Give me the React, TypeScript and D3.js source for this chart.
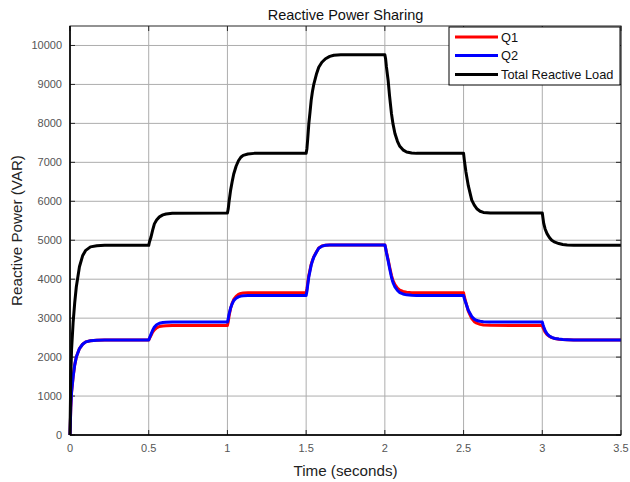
import React from "react";
import * as d3 from "d3";

const time = [
  0, 0.005, 0.01, 0.02, 0.03, 0.04, 0.06, 0.08, 0.1, 0.13, 0.17, 0.22, 0.5,
  0.505, 0.515, 0.525, 0.536, 0.55, 0.568, 0.59, 0.61, 0.65, 1.0,
  1.005, 1.01, 1.02, 1.03, 1.04, 1.055, 1.07, 1.085, 1.1, 1.13, 1.17, 1.5,
  1.505, 1.51, 1.517, 1.525, 1.532, 1.54, 1.549, 1.565, 1.58, 1.6, 1.623, 1.65, 1.676, 1.72, 2.0,
  2.005, 2.01, 2.021, 2.03, 2.042, 2.052, 2.064, 2.08, 2.095, 2.115, 2.138, 2.17, 2.2, 2.5,
  2.505, 2.515, 2.53, 2.552, 2.568, 2.584, 2.605, 2.626, 2.67, 3.0,
  3.004, 3.009, 3.018, 3.03, 3.045, 3.06, 3.08, 3.105, 3.13, 3.158, 3.2, 3.5,
];

const totalLoad = [
  0, 1500, 2200, 2900, 3400, 3800, 4320, 4600, 4740, 4830, 4860, 4870, 4870,
  4960, 5090, 5260, 5420, 5520, 5600, 5650, 5675, 5695, 5700,
  5800, 5980, 6280, 6500, 6700, 6900, 7040, 7130, 7180, 7215, 7230, 7230,
  7350, 7600, 7990, 8300, 8590, 8820, 9010, 9260, 9440, 9570, 9660, 9720, 9750, 9760, 9760,
  9650, 9450, 9100, 8700, 8250, 7980, 7740, 7540, 7410, 7320, 7265, 7240, 7230, 7230,
  7050, 6750, 6400, 6030, 5900, 5810, 5745, 5715, 5700, 5700,
  5580, 5430, 5290, 5170, 5070, 5000, 4950, 4915, 4890, 4875, 4870, 4870,
];

const q1 = [
  0, 700, 1100, 1500, 1800, 2000, 2220, 2330, 2390, 2420, 2435, 2440, 2440,
  2480, 2560, 2640, 2700, 2750, 2785, 2800, 2805, 2810, 2810,
  2900, 3050, 3250, 3380, 3480, 3560, 3610, 3635, 3645, 3650, 3650, 3650,
  3750, 3900, 4100, 4250, 4380, 4480, 4580, 4700, 4800, 4850, 4870, 4880, 4880, 4880, 4880,
  4800, 4700, 4500, 4320, 4100, 3960, 3860, 3770, 3720, 3685, 3665, 3655, 3650, 3650,
  3550, 3400, 3180, 2990, 2910, 2870, 2840, 2825, 2815, 2810,
  2760, 2720, 2640, 2580, 2530, 2500, 2475, 2460, 2450, 2445, 2440, 2440,
];

const q2 = [
  0, 700, 1100, 1500, 1800, 2000, 2220, 2330, 2390, 2420, 2435, 2440, 2440,
  2490, 2590, 2690, 2770, 2830, 2870, 2890, 2895, 2900, 2900,
  2980, 3100, 3260, 3370, 3450, 3510, 3545, 3565, 3575, 3580, 3580, 3580,
  3690, 3850, 4060, 4220, 4360, 4470, 4570, 4690, 4795, 4848, 4870, 4880, 4880, 4880, 4880,
  4790, 4680, 4470, 4280, 4050, 3910, 3800, 3710, 3655, 3620, 3598, 3588, 3582, 3580,
  3500, 3380, 3200, 3040, 2975, 2940, 2920, 2910, 2903, 2900,
  2840, 2780, 2680, 2600, 2540, 2505, 2478, 2462, 2450, 2445, 2440, 2440,
];

const xTicks = [0, 0.5, 1, 1.5, 2, 2.5, 3, 3.5];
const yTicks = [0, 1000, 2000, 3000, 4000, 5000, 6000, 7000, 8000, 9000, 10000];

const seriesNames = ["Q1", "Q2", "Total Reactive Load"];
const seriesColors = ["#ff0000", "#0000ff", "#000000"];

const W = 630;
const H = 482;
const M = { left: 70, right: 9, top: 26, bottom: 47 };
const FONT = "'Liberation Sans', Arial, Helvetica, sans-serif";

export default function App() {
  const x = d3.scaleLinear().domain([0, 3.5]).range([M.left, W - M.right]);
  const y = d3.scaleLinear().domain([0, 10500]).range([H - M.bottom, M.top]);

  const mk = (vals: number[]) =>
    d3
      .line<number>()
      .x((_, i) => x(time[i]))
      .y((v) => y(v))(vals) || "";

  const paths = [mk(q1), mk(q2), mk(totalLoad)];
  const x0 = M.left;
  const x1 = W - M.right;
  const y0 = H - M.bottom;
  const y1 = M.top;

  const legX = 449;
  const legY = 27;
  const legW = x1 - 1 - legX;
  const legH = 58;
  const legRows = [37, 55.5, 74.5];

  return (
    <svg
      width={W}
      height={H}
      style={{ position: "absolute", left: 0, top: 0, background: "#fff" }}
      fontFamily={FONT}
    >
      <rect x={0} y={0} width={W} height={H} fill="#fff" />
      {xTicks.map((t) => (
        <line key={"gx" + t} x1={x(t)} x2={x(t)} y1={y1} y2={y0} stroke="#adadad" strokeWidth={1} />
      ))}
      {yTicks.map((t) => (
        <line key={"gy" + t} x1={x0} x2={x1} y1={y(t)} y2={y(t)} stroke="#adadad" strokeWidth={1} />
      ))}
      {xTicks.map((t) => (
        <g key={"tx" + t}>
          <line x1={x(t)} x2={x(t)} y1={y0} y2={y0 - 5} stroke="#262626" />
          <line x1={x(t)} x2={x(t)} y1={y1} y2={y1 + 5} stroke="#262626" />
        </g>
      ))}
      {yTicks.map((t) => (
        <g key={"ty" + t}>
          <line x1={x0} x2={x0 + 5} y1={y(t)} y2={y(t)} stroke="#262626" />
          <line x1={x1} x2={x1 - 5} y1={y(t)} y2={y(t)} stroke="#262626" />
        </g>
      ))}
      {paths.map((d, i) => (
        <path
          key={seriesNames[i]}
          d={d}
          fill="none"
          stroke={seriesColors[i]}
          strokeWidth={3}
          strokeLinejoin="round"
        />
      ))}
      <rect x={x0} y={y1} width={x1 - x0} height={y0 - y1} fill="none" stroke="#262626" strokeWidth={1} />
      <line x1={x0} x2={x1} y1={y0} y2={y0} stroke="#000" strokeWidth={1.5} />
      <line x1={x0} x2={x0} y1={y1} y2={y0} stroke="#000" strokeWidth={1.5} />
      {xTicks.map((t) => (
        <text key={"lx" + t} x={x(t)} y={y0 + 17} textAnchor="middle" fontSize={11} fill="#555">
          {String(t)}
        </text>
      ))}
      {yTicks.map((t) => (
        <text key={"ly" + t} x={x0 - 8} y={y(t) + 4} textAnchor="end" fontSize={11} fill="#555">
          {String(t)}
        </text>
      ))}
      <text x={(x0 + x1) / 2} y={20} textAnchor="middle" fontSize={14.5} fill="#111">
        Reactive Power Sharing
      </text>
      <text x={(x0 + x1) / 2} y={476} textAnchor="middle" fontSize={15.2} fill="#222">
        Time (seconds)
      </text>
      <text
        transform={`translate(22, ${(y0 + y1) / 2}) rotate(-90)`}
        textAnchor="middle"
        fontSize={15.2}
        fill="#222"
      >
        Reactive Power (VAR)
      </text>
      <rect x={legX} y={legY} width={legW} height={legH} fill="#fff" stroke="#000" strokeWidth={1} />
      {seriesNames.map((n, i) => (
        <g key={"leg" + n}>
          <line x1={455} x2={498} y1={legRows[i]} y2={legRows[i]} stroke={seriesColors[i]} strokeWidth={3} />
          <text x={501} y={legRows[i] + 4.5} fontSize={12.8} fill="#111">
            {n}
          </text>
        </g>
      ))}
    </svg>
  );
}
